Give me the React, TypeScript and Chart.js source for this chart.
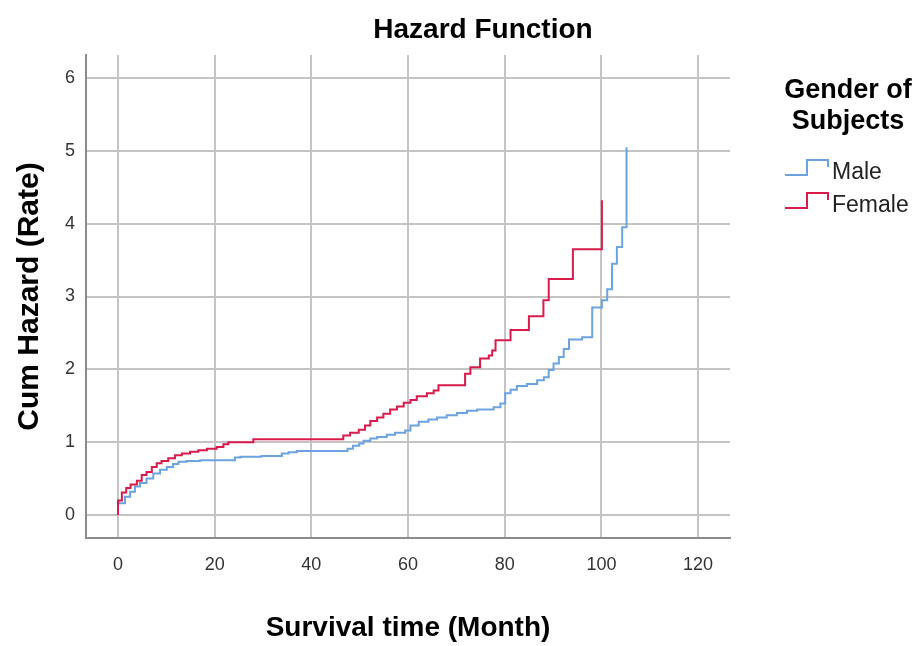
import React, { useEffect, useRef } from "react";
import { Chart, registerables } from "chart.js";

Chart.register(...registerables);

const chartTitle = "Hazard Function";
const xAxisTitle = "Survival time (Month)";
const yAxisTitle = "Cum Hazard (Rate)";
const legendTitle = ["Gender of", "Subjects"];
const seriesNames = ["Male", "Female"];

const maleTimes = [0, 0, 1.45, 2.5, 3.5, 4.55, 5.9, 7.3, 8.7, 10.1, 11.4, 12.5, 14.2, 17, 24.2, 25.3, 29.7, 33.9, 35.3, 37, 47.5, 48.6, 49.9, 50.8, 52.2, 53.6, 55.6, 57.3, 59.4, 60.5, 62.2, 64.2, 66, 68, 70.1, 72.2, 74.3, 77.7, 79.1, 80.1, 81.2, 82.5, 84.6, 86.7, 88.1, 89.1, 90.1, 91.2, 92.2, 93.3, 96, 98.1, 100.1, 101.2, 102.2, 103.2, 104.3, 105.2];
const maleHazard = [0, 0.16, 0.25, 0.32, 0.39, 0.44, 0.5, 0.57, 0.62, 0.66, 0.7, 0.73, 0.74, 0.75, 0.79, 0.8, 0.81, 0.845, 0.86, 0.877, 0.91, 0.95, 0.98, 1.02, 1.05, 1.07, 1.1, 1.13, 1.16, 1.23, 1.28, 1.31, 1.34, 1.37, 1.4, 1.43, 1.45, 1.48, 1.53, 1.67, 1.72, 1.77, 1.8, 1.85, 1.89, 1.99, 2.08, 2.17, 2.28, 2.41, 2.44, 2.85, 2.95, 3.1, 3.45, 3.68, 3.95, 5.05];

const femaleTimes = [0, 0, 0.8, 1.7, 2.6, 3.9, 4.9, 5.9, 7.0, 8.0, 9.0, 10.4, 11.8, 13.2, 14.9, 16.6, 18.4, 20.4, 21.8, 22.8, 28.0, 46.6, 48.0, 49.8, 51.1, 52.2, 53.6, 54.9, 56.3, 57.7, 59.1, 60.5, 61.8, 63.9, 65.3, 66.3, 71.8, 72.9, 74.9, 76.7, 77.4, 78.1, 81.2, 85.0, 88.0, 89.1, 94.1, 100.1];
const femaleHazard = [0, 0.2, 0.31, 0.37, 0.42, 0.47, 0.55, 0.59, 0.66, 0.71, 0.74, 0.78, 0.82, 0.845, 0.87, 0.89, 0.91, 0.935, 0.97, 1.0, 1.04, 1.09, 1.13, 1.17, 1.23, 1.29, 1.34, 1.39, 1.45, 1.49, 1.54, 1.58, 1.63, 1.67, 1.71, 1.78, 1.94, 2.03, 2.15, 2.19, 2.26, 2.4, 2.54, 2.73, 2.95, 3.24, 3.65, 4.32];

const seriesColors = ["#6ba3e0", "#d81b4a"];
const FONT = "'Liberation Sans', Arial, Helvetica, sans-serif";

const toPoints = (xs: number[], ys: number[]) => xs.map((x, i) => ({ x, y: ys[i] }));

const decorPlugin = {
  id: "decor",
  afterDraw(chart: any) {
    const ctx = chart.ctx as CanvasRenderingContext2D;
    ctx.save();
    ctx.fillStyle = "#000";
    ctx.textAlign = "center";
    ctx.textBaseline = "middle";
    ctx.font = `bold 28px ${FONT}`;
    ctx.fillText(chartTitle, 483, 30);

    ctx.font = `bold 27px ${FONT}`;
    legendTitle.forEach((line, i) => ctx.fillText(line, 848, 91 + i * 31));

    ctx.textAlign = "left";
    ctx.font = `23px ${FONT}`;
    chart.data.datasets.slice().sort((a: any, b: any) => a.legendIndex - b.legendIndex).forEach((ds: any, i: number) => {
      const base = 175 + i * 33;
      ctx.strokeStyle = ds.borderColor;
      ctx.lineWidth = 2;
      ctx.beginPath();
      ctx.moveTo(785, base);
      ctx.lineTo(807, base);
      ctx.lineTo(807, base - 15);
      ctx.lineTo(828, base - 15);
      ctx.lineTo(828, base - 8);
      ctx.stroke();
      ctx.fillStyle = "#222";
      ctx.fillText(ds.label, 832, base - 2);
    });
    ctx.restore();
  },
};

export default function App() {
  const ref = useRef<HTMLCanvasElement | null>(null);
  useEffect(() => {
    if (!ref.current) return;
    const chart = new Chart(ref.current, {
      type: "line",
      data: {
        datasets: [
          {
            label: seriesNames[0],
            data: toPoints(maleTimes, maleHazard),
            borderColor: seriesColors[0],
            backgroundColor: seriesColors[0],
            borderWidth: 2,
            pointRadius: 0,
            stepped: true,
            fill: false,
            order: 2,
            legendIndex: 0,
          } as any,
          {
            label: seriesNames[1],
            data: toPoints(femaleTimes, femaleHazard),
            borderColor: seriesColors[1],
            backgroundColor: seriesColors[1],
            borderWidth: 2,
            pointRadius: 0,
            stepped: true,
            fill: false,
            order: 1,
            legendIndex: 1,
          } as any,
        ],
      },
      options: {
        animation: false,
        responsive: true,
        maintainAspectRatio: false,
        parsing: false as any,
        layout: { padding: { top: 55, right: 189, left: 0, bottom: 0 } },
        plugins: {
          legend: { display: false },
          title: { display: false },
          tooltip: { enabled: false },
        },
        scales: {
          x: {
            type: "linear",
            min: -6.62,
            max: 126.6,
            afterFit: (s: any) => { s.height = 108; },
            ticks: {
              stepSize: 20,
              includeBounds: false,
              padding: 16,
              color: "#333",
              font: { family: FONT, size: 18 },
            },
            grid: { color: "#c4c4c4", lineWidth: 2, drawTicks: false },
            border: { color: "#8c8c8c", width: 2 },
            title: {
              display: true,
              text: xAxisTitle,
              color: "#000",
              font: { family: FONT, size: 28, weight: "bold" },
              padding: { top: 0, bottom: 1 },
            },
          },
          y: {
            type: "linear",
            min: -0.316,
            max: 6.316,
            afterFit: (s: any) => { s.width = 86; },
            ticks: {
              stepSize: 1,
              includeBounds: false,
              padding: 11,
              color: "#333",
              font: { family: FONT, size: 18 },
            },
            grid: { color: "#c4c4c4", lineWidth: 2, drawTicks: false },
            border: { color: "#8c8c8c", width: 2 },
            title: {
              display: true,
              text: yAxisTitle,
              color: "#000",
              font: { family: FONT, size: 30, weight: "bold" },
              padding: { top: 12, bottom: 0 },
            },
          },
        },
      },
      plugins: [decorPlugin],
    });
    return () => chart.destroy();
  }, []);
  return (
    <div style={{ position: "fixed", left: 0, top: 0, width: 919, height: 646, background: "#fff" }}>
      <canvas ref={ref} />
    </div>
  );
}
